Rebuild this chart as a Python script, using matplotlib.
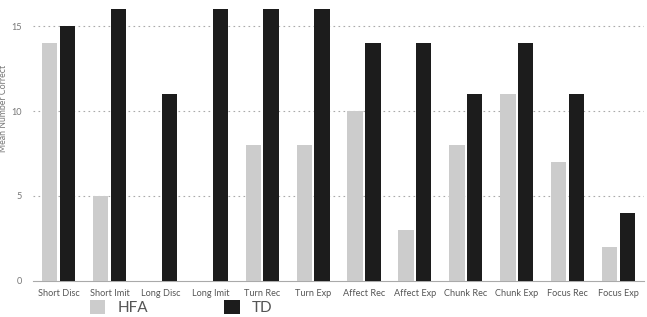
import matplotlib
matplotlib.use("Agg")
import matplotlib.pyplot as plt
import numpy as np

categories = ["Short Disc", "Short Imit", "Long Disc", "Long Imit", "Turn Rec", "Turn Exp",
              "Affect Rec", "Affect Exp", "Chunk Rec", "Chunk Exp", "Focus Rec", "Focus Exp"]
hfa = [14, 5, 0, 0, 8, 8, 10, 3, 8, 11, 7, 2]
td = [15, 16, 11, 16, 16, 16, 14, 14, 11, 14, 11, 4]
yticks = [0, 5, 10, 15]

plt.rcParams['font.family'] = ['Lato', 'DejaVu Sans']

fig = plt.figure(figsize=(6.47, 3.17), dpi=100)
ax = fig.add_axes([0.051, 0.1145, 0.9445, 0.8565])

x = np.arange(len(categories))
w = 0.3
off = 0.175
b1 = ax.bar(x - off, hfa, width=w, color="#cccccc", label="HFA", zorder=3)
b2 = ax.bar(x + off, td, width=w, color="#1c1c1c", label="TD", zorder=3)

ax.set_xlim(-0.5, len(categories) - 0.5)
ax.set_ylim(0, 16)
ax.set_xticks(x)
ax.set_xticklabels(categories, fontsize=6.6, color="#555555")
ax.set_yticks(yticks)
ax.set_yticklabels([str(v) for v in yticks], fontsize=6.6, color="#777777")
ax.tick_params(length=0, pad=6)
ax.tick_params(axis='y', pad=8)

for v in yticks[1:]:
    ax.axhline(v, color="#aaaaaa", linestyle=(0, (1.5, 3)), linewidth=0.8, zorder=1)

for s in ["top", "right", "left"]:
    ax.spines[s].set_visible(False)
ax.spines["bottom"].set_color("#aaaaaa")
ax.spines["bottom"].set_linewidth(0.8)

ax.set_ylabel("Mean Number Correct", fontsize=6.3, color="#777777")
ax.yaxis.set_label_coords(-0.041, 0.636)

leg = fig.legend(handles=[b1, b2], loc="center left", bbox_to_anchor=(0.139, 0.03),
                 ncol=2, frameon=False, fontsize=11, handlelength=1.0, handleheight=1.0,
                 columnspacing=5.0, handletextpad=0.8, borderaxespad=0, borderpad=0)
for t in leg.get_texts():
    t.set_color("#555555")

fig.savefig("out.png", dpi=100)
